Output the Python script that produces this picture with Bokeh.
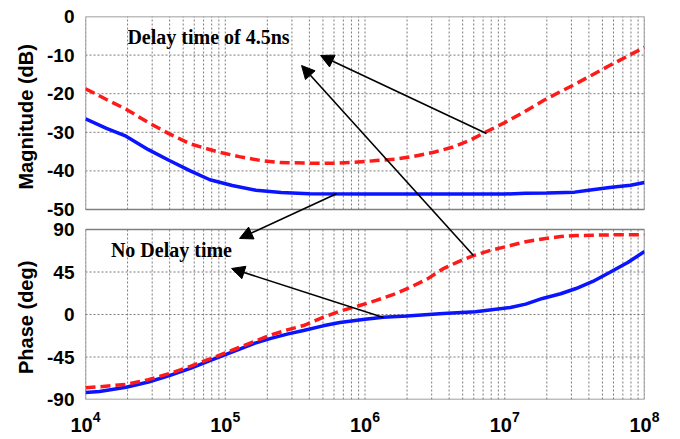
import math
from bokeh.plotting import figure
from bokeh.layouts import row
from bokeh.models import (Range1d, LinearAxis, FixedTicker, CustomJSTickFormatter,
                          Label, Arrow, NormalHead)
from bokeh.core.properties import value
from bokeh.embed import file_html
from bokeh.resources import INLINE

# ---------------- data (log10 of frequency in Hz) ----------------
mag_red_logf = [4.0, 4.15, 4.29, 4.45, 4.6, 4.75, 4.94, 5.1, 5.25, 5.39, 5.6, 5.77, 5.9,
                6.06, 6.23, 6.34, 6.5, 6.63, 6.75, 6.86, 7.0, 7.15, 7.28, 7.51, 7.75, 8.0]
mag_red_db = [-18.7, -21.5, -24.0, -27.5, -30.4, -33.0, -35.0, -36.3, -37.3, -37.8, -38.0, -38.0, -37.8,
              -37.4, -36.9, -36.3, -35.1, -33.8, -32.1, -30.0, -27.5, -24.5, -21.7, -17.4, -12.7, -8.0]

mag_blue_logf = [4.0, 4.15, 4.29, 4.45, 4.6, 4.75, 4.89, 5.05, 5.22, 5.4, 5.6, 6.0, 6.5,
                 7.0, 7.15, 7.3, 7.5, 7.6, 7.75, 7.9, 8.0]
mag_blue_db = [-26.5, -29.0, -31.0, -34.5, -37.3, -40.0, -42.3, -43.8, -45.0, -45.6, -45.9, -46.0, -46.0,
               -46.0, -45.8, -45.7, -45.5, -45.0, -44.3, -43.7, -43.0]

ph_blue_logf = [4.0, 4.1, 4.29, 4.45, 4.6, 4.75, 4.89, 5.08, 5.2, 5.32, 5.45, 5.56, 5.7, 5.82,
                6.0, 6.13, 6.3, 6.56, 6.79, 7.04, 7.15, 7.27, 7.4, 7.51, 7.63, 7.75, 7.88, 8.0]
ph_blue_deg = [-82.7, -81.5, -77.0, -71.5, -64.7, -57.0, -48.8, -38.0, -31.0, -25.5, -20.5, -17.0, -12.0, -8.5,
               -5.0, -3.0, -1.5, 1.0, 3.0, 7.4, 11.0, 17.0, 22.0, 27.5, 35.0, 44.5, 55.0, 66.7]

ph_red_logf = [4.0, 4.1, 4.29, 4.45, 4.6, 4.75, 4.89, 5.08, 5.2, 5.32, 5.45, 5.56, 5.7, 5.82,
               5.95, 6.08, 6.2, 6.32, 6.45, 6.56, 6.67, 6.77, 6.9, 7.04, 7.15, 7.27, 7.4, 7.51, 7.75, 8.0]
ph_red_deg = [-77.5, -76.5, -74.0, -69.0, -62.5, -55.0, -47.0, -36.0, -29.0, -22.0, -16.0, -11.7, -3.0, 3.5,
              9.0, 15.0, 21.0, 28.5, 38.0, 48.5, 56.0, 62.0, 68.0, 73.0, 77.0, 80.0, 82.5, 83.6, 84.3, 84.5]

x_lim = [1e4, 1e8]
mag_lim = [-50, 0]
phase_lim = [-90, 90]
mag_ticks = [-50, -40, -30, -20, -10, 0]
phase_ticks = [-90, -45, 0, 45, 90]
axis_titles = ["Magnitude (dB)", "Phase (deg)"]

# ---------------- layout of the stacked panels ----------------
FRAME_H = 383
TOP = 16
BOTTOM = 36
MAG_PX = 193.0 / 50.0       # px per dB
PH_PX = 170.0 / 180.0       # px per degree
main_bottom = -FRAME_H / MAG_PX            # main range in dB units
ph_top = -90 + FRAME_H / PH_PX             # phase range top


def ph2main(v):
    return main_bottom + (v + 90) * PH_PX / MAG_PX


def f(e):
    return 10 ** e


p = figure(x_axis_type="log", x_range=Range1d(*x_lim), y_range=Range1d(main_bottom, 0),
           frame_width=559, frame_height=FRAME_H, min_border_left=38, min_border_right=39,
           min_border_top=TOP, min_border_bottom=BOTTOM, output_backend="svg",
           toolbar_location=None, y_axis_location=None, background_fill_color="white")
p.extra_y_ranges = {"phase": Range1d(-90, ph_top)}
p.outline_line_color = None
p.xgrid.visible = False
p.ygrid.visible = False

# x axis
xa = p.xaxis[0]
xa.axis_line_color = None
xa.major_tick_line_color = None
xa.minor_tick_line_color = None
xa.major_label_text_font = "Liberation Sans"
xa.major_label_text_font_style = "bold"
xa.major_label_text_font_size = "20px"
xa.major_label_text_color = "black"
xa.major_label_standoff = 5

# y axis (both panels share one axis with custom labels)
thr = (mag_lim[0] + ph2main(phase_lim[1])) / 2
ya = LinearAxis(ticker=FixedTicker(ticks=mag_ticks + [ph2main(t) for t in phase_ticks]),
                formatter=CustomJSTickFormatter(
                    args=dict(thr=thr, b=main_bottom, sc=PH_PX / MAG_PX),
                    code="""
                    let v = tick;
                    if (tick < thr) { v = (tick - b) / sc - 90; }
                    const r = Math.round(v);
                    return (r === 0 ? 0 : r).toString();
                    """))
ya.axis_line_color = None
ya.major_tick_line_color = None
ya.minor_tick_line_color = None
ya.major_label_text_font = "Liberation Sans"
ya.major_label_text_font_style = "bold"
ya.major_label_text_font_size = "19px"
ya.major_label_text_color = "black"
ya.major_label_standoff = 5
p.add_layout(ya, "left")

# ---------------- grid ----------------
grid_x = [m * 10 ** k for k in range(4, 8) for m in range(1, 10)] + [1e8]
grid_col = "#7a7a7a"
p.segment(x0=grid_x, x1=grid_x, y0=[mag_lim[0]] * len(grid_x), y1=[mag_lim[1]] * len(grid_x),
          line_color=grid_col, line_width=1, line_dash="2 2")
p.segment(x0=grid_x, x1=grid_x, y0=[phase_lim[0]] * len(grid_x), y1=[phase_lim[1]] * len(grid_x),
          line_color=grid_col, line_width=1, line_dash="2 2", y_range_name="phase")
mag_h = mag_ticks[1:-1]
p.segment(x0=[x_lim[0]] * len(mag_h), x1=[x_lim[1]] * len(mag_h), y0=mag_h, y1=mag_h,
          line_color=grid_col, line_width=1, line_dash="2 2")
ph_h = phase_ticks[1:-1]
p.segment(x0=[x_lim[0]] * len(ph_h), x1=[x_lim[1]] * len(ph_h), y0=ph_h, y1=ph_h,
          line_color=grid_col, line_width=1, line_dash="2 2", y_range_name="phase")

# panel borders
p.quad(left=[x_lim[0]], right=[x_lim[1]], bottom=[mag_lim[0]], top=[mag_lim[1]],
       fill_color=None, line_color="#7f7f7f", line_width=1.5)
p.quad(left=[x_lim[0]], right=[x_lim[1]], bottom=[phase_lim[0]], top=[phase_lim[1]],
       fill_color=None, line_color="#7f7f7f", line_width=1.5, y_range_name="phase")

# ---------------- curves ----------------
p.line([f(e) for e in mag_blue_logf], mag_blue_db, line_color="#0a14ff", line_width=3.5)
p.line([f(e) for e in mag_red_logf], mag_red_db, line_color="#ff1a1a", line_width=3.5,
       line_dash="10 5")
p.line([f(e) for e in ph_blue_logf], ph_blue_deg, line_color="#0a14ff", line_width=3.5,
       y_range_name="phase")
p.line([f(e) for e in ph_red_logf], ph_red_deg, line_color="#ff1a1a", line_width=3.5,
       line_dash="10 5", y_range_name="phase")

# ---------------- annotations ----------------
p.add_layout(Label(x=10 ** 4.88, y=-5.4, text="Delay time of 4.5ns", text_align="center",
                   text_baseline="middle", text_font="Liberation Serif", text_font_style="bold",
                   text_font_size="20px", text_color="black"))
p.add_layout(Label(x=10 ** 4.615, y=ph2main(67.8), text="No Delay time", text_align="center",
                   text_baseline="middle", text_font="Liberation Serif", text_font_style="bold",
                   text_font_size="20px", text_color="black"))

arrows = [
    ((6.869, -30.3), (5.682, -10.1)),
    ((6.776, ph2main(62.5)), (5.546, -12.7)),
    ((5.796, -45.9), (5.102, ph2main(80.5))),
    ((6.132, ph2main(-3.2)), (5.045, ph2main(48.7))),
]
for (xs, ys), (xe, ye) in arrows:
    p.add_layout(Arrow(end=NormalHead(size=13, fill_color="black", line_color="black"),
                       x_start=10 ** xs, y_start=ys, x_end=10 ** xe, y_end=ye,
                       line_color="black", line_width=1.6))

# ---------------- axis titles: narrow side figure sharing the same vertical scale ----------------
side = figure(frame_width=44, frame_height=FRAME_H, min_border_left=0, min_border_right=0,
              min_border_top=TOP, min_border_bottom=BOTTOM, x_range=Range1d(0, 44),
              y_range=Range1d(main_bottom, 0), output_backend="svg", toolbar_location=None,
              x_axis_location=None, y_axis_location=None)
side.outline_line_color = None
side.grid.visible = False
side.text(x=[25, 25], y=[sum(mag_lim) / 2 - 1, ph2main(sum(phase_lim) / 2 - 3)], text=axis_titles,
          angle=math.pi / 2, text_align="center", text_baseline="middle",
          text_font=value("Liberation Sans"), text_font_style="bold",
          text_font_size="20px", text_color="black")

layout = row(side, p)
open("out.html", "w").write(file_html(layout, INLINE))
